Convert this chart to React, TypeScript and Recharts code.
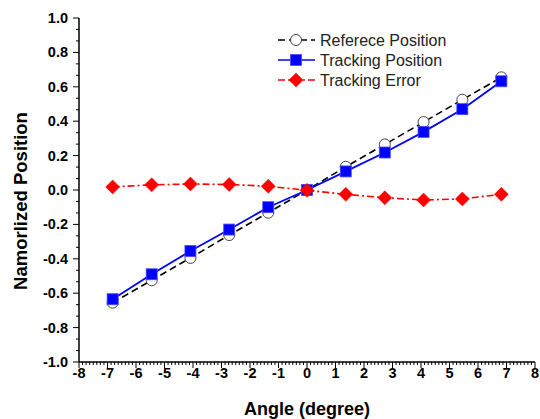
import React from "react";
import { LineChart, Line, XAxis, YAxis, Legend } from "recharts";

const ANGLES = [-6.82, -5.45, -4.09, -2.73, -1.36, 0, 1.36, 2.73, 4.09, 5.45, 6.82];
const REFERENCE = [-0.655, -0.525, -0.395, -0.262, -0.132, 0, 0.135, 0.265, 0.395, 0.525, 0.655];
const TRACKING = [-0.635, -0.49, -0.355, -0.23, -0.1, 0, 0.108, 0.218, 0.338, 0.47, 0.632];
const ERROR = [0.018, 0.03, 0.035, 0.032, 0.022, -0.002, -0.025, -0.045, -0.058, -0.052, -0.025];

const X_TICK_LABELS = ["-8", "-7", "-6", "-5", "-4", "-3", "-2", "-1", "0", "1", "2", "3", "4", "5", "6", "7", "8"];
const Y_TICK_LABELS = ["-1.0", "-0.8", "-0.6", "-0.4", "-0.2", "0.0", "0.2", "0.4", "0.6", "0.8", "1.0"];
const X_MINOR = 8; // subdivisions per major x step
const Y_MINOR = 3; // subdivisions per major y step

const SERIES = [
  { key: "reference", name: "Referece Position", color: "#000000", dash: "7 4", marker: "circle" },
  { key: "tracking", name: "Tracking Position", color: "#0000ff", dash: undefined, marker: "square" },
  { key: "error", name: "Tracking Error", color: "#ff0000", dash: "7 3 2 3", marker: "diamond" },
];

const data = ANGLES.map((angle, i) => ({
  angle,
  reference: REFERENCE[i],
  tracking: TRACKING[i],
  error: ERROR[i],
}));

const xStart = Number(X_TICK_LABELS[0]);
const xTicks: number[] = [];
for (let i = 0; i <= (X_TICK_LABELS.length - 1) * X_MINOR; i++) xTicks.push(xStart + i / X_MINOR);

const yStart = Number(Y_TICK_LABELS[0]);
const yStep = Number(Y_TICK_LABELS[1]) - yStart;
const yTicks: number[] = [];
for (let i = 0; i <= (Y_TICK_LABELS.length - 1) * Y_MINOR; i++) yTicks.push(yStart + (i * yStep) / Y_MINOR);

const FONT = "'Liberation Sans', Arial, sans-serif";

function Marker({ type, cx, cy, color }: { type: string; cx: number; cy: number; color: string }) {
  if (type === "circle")
    return <circle cx={cx} cy={cy} r={5.5} fill="#fff" stroke="#444" strokeWidth={1} />;
  if (type === "square")
    return <rect x={cx - 5.5} y={cy - 5.5} width={11} height={11} fill={color} stroke="#4a4aff" strokeWidth={0.8} />;
  return (
    <polygon
      points={`${cx},${cy - 7} ${cx + 7},${cy} ${cx},${cy + 7} ${cx - 7},${cy}`}
      fill={color}
      stroke={color}
      strokeWidth={0.5}
    />
  );
}

function XTick(props: any) {
  const { x, y, index } = props;
  const major = index % X_MINOR === 0;
  return (
    <g>
      <line x1={x} x2={x} y1={y} y2={y + (major ? 6 : 3)} stroke="#000" strokeWidth={1} />
      {major && (
        <text x={x} y={y + 16} textAnchor="middle" fontSize={14.5} fontWeight="bold" fontFamily={FONT} fill="#000">
          {X_TICK_LABELS[index / X_MINOR]}
        </text>
      )}
    </g>
  );
}

function YTick(props: any) {
  const { x, y, index } = props;
  const major = index % Y_MINOR === 0;
  return (
    <g>
      <line x1={x - (major ? 6 : 3)} x2={x} y1={y} y2={y} stroke="#000" strokeWidth={1} />
      {major && (
        <text x={x - 11} y={y + 5} textAnchor="end" fontSize={14.5} fontWeight="bold" fontFamily={FONT} fill="#000">
          {Y_TICK_LABELS[index / Y_MINOR]}
        </text>
      )}
    </g>
  );
}

function LegendBox() {
  return (
    <svg width={220} height={64}>
      {SERIES.map((s, i) => {
        const cy = 10 + i * 20;
        return (
          <g key={s.key}>
            <line x1={3} x2={40} y1={cy} y2={cy} stroke={s.color} strokeWidth={1.6} strokeDasharray={s.dash} />
            <Marker type={s.marker} cx={21} cy={cy} color={s.color} />
            <text x={45} y={cy + 5.5} fontSize={16} fontFamily={FONT} fill="#222">
              {s.name}
            </text>
          </g>
        );
      })}
    </svg>
  );
}

export default function App() {
  return (
    <div style={{ position: "absolute", left: 0, top: 0, background: "#fff" }}>
      <LineChart width={540} height={419} data={data} margin={{ top: 18, right: 5, bottom: 27, left: 29 }}>
        <XAxis
          dataKey="angle"
          type="number"
          domain={[-8, 8]}
          ticks={xTicks}
          interval={0}
          height={30}
          tickSize={0}
          tickMargin={0}
          tickLine={false}
          axisLine={{ stroke: "#000", strokeWidth: 1.5 }}
          tick={XTick}
          label={{
            content: (p: any) => {
              const vb = p.viewBox;
              return (
                <text x={vb.x + vb.width / 2} y={415} textAnchor="middle" fontSize={18} fontWeight="bold" fontFamily={FONT} fill="#000">
                  Angle (degree)
                </text>
              );
            },
          }}
        />
        <YAxis
          type="number"
          domain={[-1, 1]}
          ticks={yTicks}
          interval={0}
          width={50}
          tickSize={0}
          tickMargin={0}
          tickLine={false}
          axisLine={{ stroke: "#000", strokeWidth: 1.5 }}
          tick={YTick}
          label={{
            content: (p: any) => {
              const vb = p.viewBox;
              const cy = vb.y + vb.height / 2 + 11;
              return (
                <text
                  x={27}
                  y={cy}
                  transform={`rotate(-90, 27, ${cy})`}
                  textAnchor="middle"
                  fontSize={18.5}
                  fontWeight="bold"
                  fontFamily={FONT}
                  fill="#000"
                >
                  Namorlized Position
                </text>
              );
            },
          }}
        />
        <Legend
          verticalAlign="middle"
          layout="horizontal"
          content={() => <LegendBox />}
          wrapperStyle={{ position: "absolute", top: 30, left: 275, width: 220, height: 64 }}
        />
        {SERIES.map((s) => (
          <Line
            key={s.key}
            dataKey={s.key}
            name={s.name}
            stroke={s.color}
            strokeWidth={s.key === "tracking" ? 1.8 : 1.6}
            strokeDasharray={s.dash}
            isAnimationActive={false}
            dot={(p: any) => <Marker key={`${s.key}-${p.index}`} type={s.marker} cx={p.cx} cy={p.cy} color={s.color} />}
            activeDot={false}
          />
        ))}
      </LineChart>
    </div>
  );
}
